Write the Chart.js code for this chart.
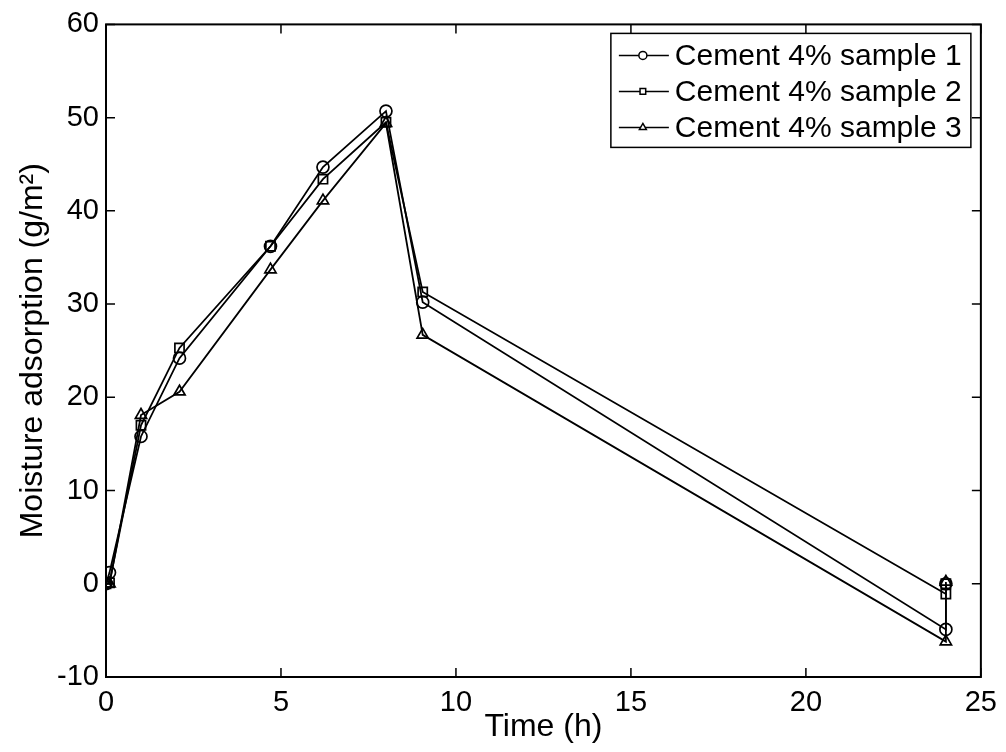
<!DOCTYPE html>
<html>
<head>
<meta charset="utf-8">
<script src="https://cdn.jsdelivr.net/npm/chart.js@4.4.0/dist/chart.umd.min.js"></script>
<style>
  html, body { margin: 0; padding: 0; background: #fff; }
  canvas { display: block; }
</style>
</head>
<body>
<canvas id="chart" width="1006" height="752"></canvas>
<script>
// ---- data ----
const timeH = [0, 0.1, 1, 2.1, 4.7, 6.2, 8, 9.05, 24, 24];
const sample1 = [0, 1.2, 15.8, 24.2, 36.2, 44.7, 50.7, 30.2, -4.9, 0];
const sample2 = [0, 0.1, 17.0, 25.3, 36.2, 43.4, 49.5, 31.3, -1.1, 0];
const sample3 = [0, 0, 18.1, 20.6, 33.7, 41.1, 49.4, 26.7, -6.2, 0.2];
const seriesLabels = ['Cement 4% sample 1', 'Cement 4% sample 2', 'Cement 4% sample 3'];
const xTicks = [0, 5, 10, 15, 20, 25];
const yTicks = [-10, 0, 10, 20, 30, 40, 50, 60];

const FONT = '"Liberation Sans", Arial, Helvetica, sans-serif';
const FS = 29;       // tick labels
const FS_LEG = 30;   // legend
const FS_TTL = 32;   // axis titles (matlab 1.1x)

function toPoints(ys) {
  return ys.map(function (y, i) { return { x: timeH[i], y: y }; });
}

function makeSet(label, ys, style, r) {
  return {
    label: label,
    data: toPoints(ys),
    borderColor: '#000',
    backgroundColor: 'rgba(0,0,0,0)',
    borderWidth: 1.8,
    pointStyle: style,
    pointRadius: r,
    pointBorderWidth: 1.7,
    pointBorderColor: '#000',
    pointBackgroundColor: 'rgba(0,0,0,0)',
    tension: 0,
    fill: false,
  };
}

// frame + inward ticks on all four sides
const framePlugin = {
  id: 'frame',
  afterDraw: function (chart) {
    const ctx = chart.ctx;
    const a = chart.chartArea;
    const xs = chart.scales.x;
    const ys = chart.scales.y;
    const len = 9;
    ctx.save();
    ctx.strokeStyle = '#000';
    ctx.lineWidth = 1.5;
    ctx.beginPath();
    xTicks.forEach(function (v) {
      const px = xs.getPixelForValue(v);
      ctx.moveTo(px, a.bottom); ctx.lineTo(px, a.bottom - len);
      ctx.moveTo(px, a.top); ctx.lineTo(px, a.top + len);
    });
    yTicks.forEach(function (v) {
      const py = ys.getPixelForValue(v);
      ctx.moveTo(a.left, py); ctx.lineTo(a.left + len, py);
      ctx.moveTo(a.right, py); ctx.lineTo(a.right - len, py);
    });
    ctx.stroke();
    ctx.lineWidth = 2;
    ctx.strokeRect(a.left, a.top, a.right - a.left, a.bottom - a.top);
    ctx.restore();
  }
};

// matlab-like legend box in the upper right corner
const legendPlugin = {
  id: 'boxLegend',
  afterDraw: function (chart) {
    const ctx = chart.ctx;
    const a = chart.chartArea;
    const boxR = a.right - 10;
    const boxT = a.top + 9;
    const boxL = boxR - 360;
    const rowH = 36;
    const boxH = 114;
    ctx.save();
    ctx.fillStyle = '#fff';
    ctx.fillRect(boxL, boxT, boxR - boxL, boxH);
    ctx.strokeStyle = '#000';
    ctx.lineWidth = 1.5;
    ctx.strokeRect(boxL, boxT, boxR - boxL, boxH);
    ctx.font = FS_LEG + 'px ' + FONT;
    ctx.textBaseline = 'middle';
    chart.data.datasets.forEach(function (ds, i) {
      const cy = boxT + 22 + i * rowH;
      ctx.beginPath();
      ctx.moveTo(boxL + 8, cy);
      ctx.lineTo(boxL + 58, cy);
      ctx.lineWidth = 1.5;
      ctx.stroke();
      ctx.fillStyle = '#fff';
      Chart.helpers.drawPoint(ctx, { pointStyle: ds.pointStyle, radius: 4, borderWidth: 1.3 }, boxL + 32, cy);
      ctx.fillStyle = '#000';
      ctx.fillText(ds.label, boxL + 64, cy + 1);
    });
    ctx.restore();
  }
};

new Chart(document.getElementById('chart'), {
  type: 'line',
  data: {
    datasets: [
      makeSet(seriesLabels[0], sample1, 'circle', 6),
      makeSet(seriesLabels[1], sample2, 'rect', 6.5),
      makeSet(seriesLabels[2], sample3, 'triangle', 6.5),
    ],
  },
  options: {
    responsive: false,
    devicePixelRatio: 1,
    animation: false,
    layout: { padding: { top: 24, right: 22, left: 0, bottom: 0 } },
    plugins: {
      legend: { display: false },
      tooltip: { enabled: false },
    },
    scales: {
      x: {
        type: 'linear',
        min: 0,
        max: 25,
        afterBuildTicks: function (s) { s.ticks = xTicks.map(function (v) { return { value: v }; }); },
        afterFit: function (s) { s.height = 75; },
        ticks: { color: '#000', font: { family: FONT, size: FS }, padding: 9, maxRotation: 0, autoSkip: false },
        grid: { display: false, drawTicks: false },
        border: { display: false },
        title: { display: true, text: 'Time (h)', color: '#000', font: { family: FONT, size: FS_TTL }, padding: { top: 0, bottom: 6 } },
      },
      y: {
        type: 'linear',
        min: -10,
        max: 60,
        afterBuildTicks: function (s) { s.ticks = yTicks.map(function (v) { return { value: v }; }); },
        afterFit: function (s) { s.width = 106; },
        ticks: { color: '#000', font: { family: FONT, size: FS }, padding: 7, autoSkip: false },
        grid: { display: false, drawTicks: false },
        border: { display: false },
        title: { display: true, text: 'Moisture adsorption (g/m²)', color: '#000', font: { family: FONT, size: FS_TTL }, padding: { top: 14, bottom: 0 } },
      },
    },
  },
  plugins: [framePlugin, legendPlugin],
});
</script>
</body>
</html>
